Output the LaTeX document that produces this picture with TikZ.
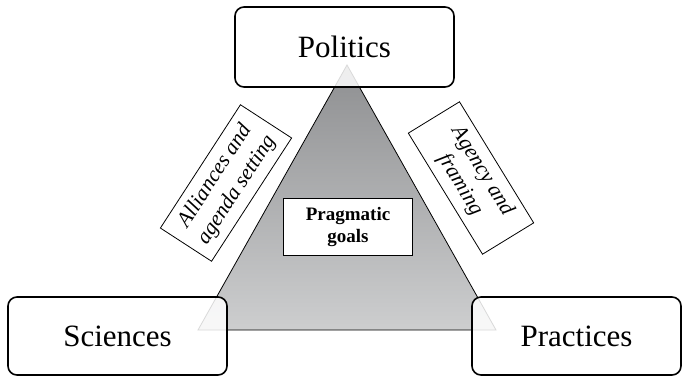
\documentclass[tikz,border=0pt]{standalone}
\usepackage{fontspec}
\setmainfont{Liberation Serif}
\definecolor{tritop}{HTML}{8E8F91}
\definecolor{tribot}{HTML}{CDCECF}
\begin{document}
\begin{tikzpicture}[x=1pt,y=-1pt,
  bigbox/.style={draw, line width=1.6pt, rounded corners=9pt, fill=white, fill opacity=0.85, text opacity=1, draw opacity=1, inner sep=0pt, font=\fontsize{31}{36}\selectfont},
  tagbox/.style={draw, line width=0.8pt, fill=white, align=center, inner sep=0pt, font=\fontsize{21.5}{26}\selectfont\itshape},
  goalbox/.style={draw, line width=0.8pt, fill=white, align=center, inner sep=0pt, font=\fontsize{19}{22}\selectfont\bfseries},
]
\useasboundingbox (0,0) rectangle (682,376);
\coordinate (A) at (347,65);
\coordinate (B) at (198,330);
\coordinate (C) at (496,330);
\shade[top color=tritop, bottom color=tribot, draw=black, line width=0.8pt] (A) -- (B) -- (C) -- cycle;

\node[bigbox, minimum width=219pt, minimum height=80pt] (politics) at (344.5,47) {Politics};
\node[bigbox, minimum width=219pt, minimum height=78pt] (sciences) at (117.5,336) {Sciences};
\node[bigbox, minimum width=209pt, minimum height=78pt] (practices) at (576.5,336) {Practices};

\node[tagbox, minimum width=147pt, minimum height=61pt, rotate=57] (alliances) at (226,183) {Alliances and\\agenda setting};
\node[tagbox, minimum width=142pt, minimum height=60pt, rotate=-58.5] (agency) at (471,178) {Agency and\\framing};

\node[goalbox, minimum width=129pt, minimum height=57pt] (goals) at (348,226.5) {Pragmatic\\goals};
\end{tikzpicture}
\end{document}
